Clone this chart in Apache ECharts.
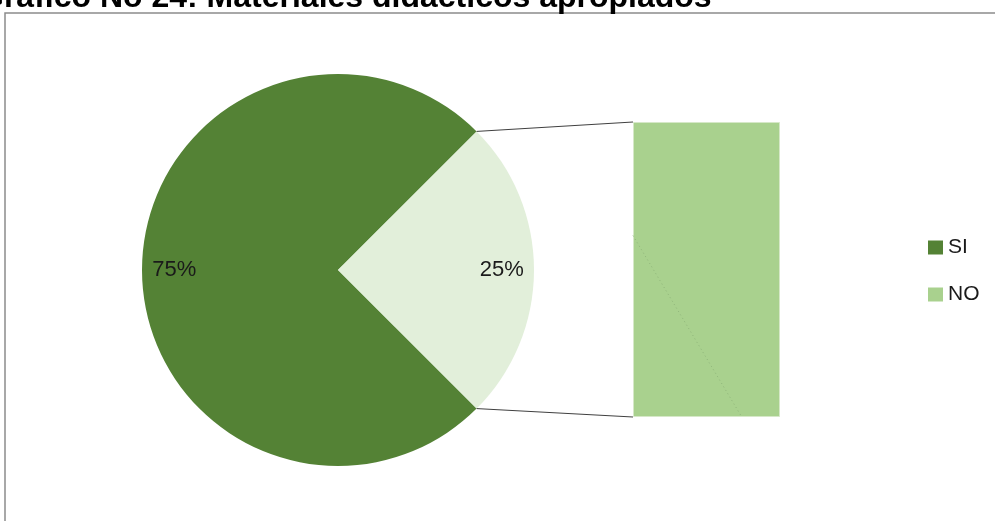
<!DOCTYPE html>
<html>
<head>
<meta charset="utf-8">
<script src="https://cdn.jsdelivr.net/npm/echarts@6/dist/echarts.min.js"></script>
<style>html,body{margin:0;padding:0;background:#fff;}#c{width:995px;height:521px;}</style>
</head>
<body>
<div id="c"></div>
<script>
const titleText = 'Gráfico No 24: Materiales didácticos apropiados';
const categories = ['SI', 'NO'];
const values = [75, 25];
const barCategory = ['NO'];
const barValues = [25];

const chart = echarts.init(document.getElementById('c'));
const cx = 338, cy = 270, r = 196;
const barLeft = 633, barTop = 122, barW = 147, barH = 295;
const a = Math.PI / 4;
const p1 = [cx + r * Math.cos(a), cy - r * Math.sin(a)];
const p2 = [cx + r * Math.cos(a), cy + r * Math.sin(a)];

chart.setOption({
  animation: false,
  backgroundColor: '#fff',
  title: {
    text: titleText, left: -21, top: -18, padding: 0,
    textStyle: { fontFamily: 'Liberation Sans', fontWeight: 'bold', fontSize: 32, color: '#000' }
  },
  legend: {
    orient: 'vertical', left: 928, top: 237, itemGap: 26, padding: 0,
    itemWidth: 15, itemHeight: 14, icon: 'rect',
    textStyle: { fontFamily: 'Liberation Sans', fontSize: 21, color: '#1a1a1a' },
    data: [
      { name: 'SI', itemStyle: { color: '#548235' } },
      { name: 'NO', itemStyle: { color: '#A9D18E' } }
    ]
  },
  grid: { left: barLeft, top: barTop, width: barW, height: barH },
  xAxis: { type: 'category', data: barCategory, show: false },
  yAxis: { type: 'value', min: 0, max: 25, show: false },
  graphic: [
    { type: 'rect', shape: { x: 5, y: 13, width: 1100, height: 600 }, style: { fill: 'none', stroke: '#8c8c8c', lineWidth: 1.5 }, silent: true, z: -10 },
    { type: 'line', shape: { x1: p1[0], y1: p1[1], x2: barLeft, y2: barTop }, style: { stroke: '#404040', lineWidth: 1 }, z: 10 },
    { type: 'line', shape: { x1: p2[0], y1: p2[1], x2: barLeft, y2: barTop + barH }, style: { stroke: '#404040', lineWidth: 1 }, z: 10 },
    { type: 'line', shape: { x1: barLeft, y1: barTop + barH * 0.385, x2: barLeft + barW * 0.74, y2: barTop + barH }, style: { stroke: '#8fb57a', lineWidth: 1, lineDash: [1, 3] }, z: 10 }
  ],
  series: [
    {
      type: 'pie', center: [cx, cy], radius: r, startAngle: -45, clockwise: true,
      label: { show: false }, labelLine: { show: false }, silent: true,
      data: categories.map((c, i) => ({ name: c, value: values[i], itemStyle: { color: i === 0 ? '#548235' : '#E2EFDA' } }))
    },
    {
      type: 'pie', center: [cx, cy], radius: [r * 0.64, r], startAngle: -45, clockwise: true,
      silent: true, legendHoverLink: false,
      itemStyle: { color: 'rgba(0,0,0,0)' },
      label: { show: true, position: 'inside', formatter: '{d}%', fontFamily: 'Liberation Sans', fontSize: 22, color: '#1a1a1a' },
      labelLine: { show: false },
      data: categories.map((c, i) => ({ name: c + ' ', value: values[i] }))
    },
    {
      type: 'bar', data: barValues, barWidth: '100%', silent: true,
      itemStyle: { color: '#A9D18E', borderColor: '#d6e8c8', borderWidth: 1 }
    }
  ]
});
</script>
</body>
</html>
